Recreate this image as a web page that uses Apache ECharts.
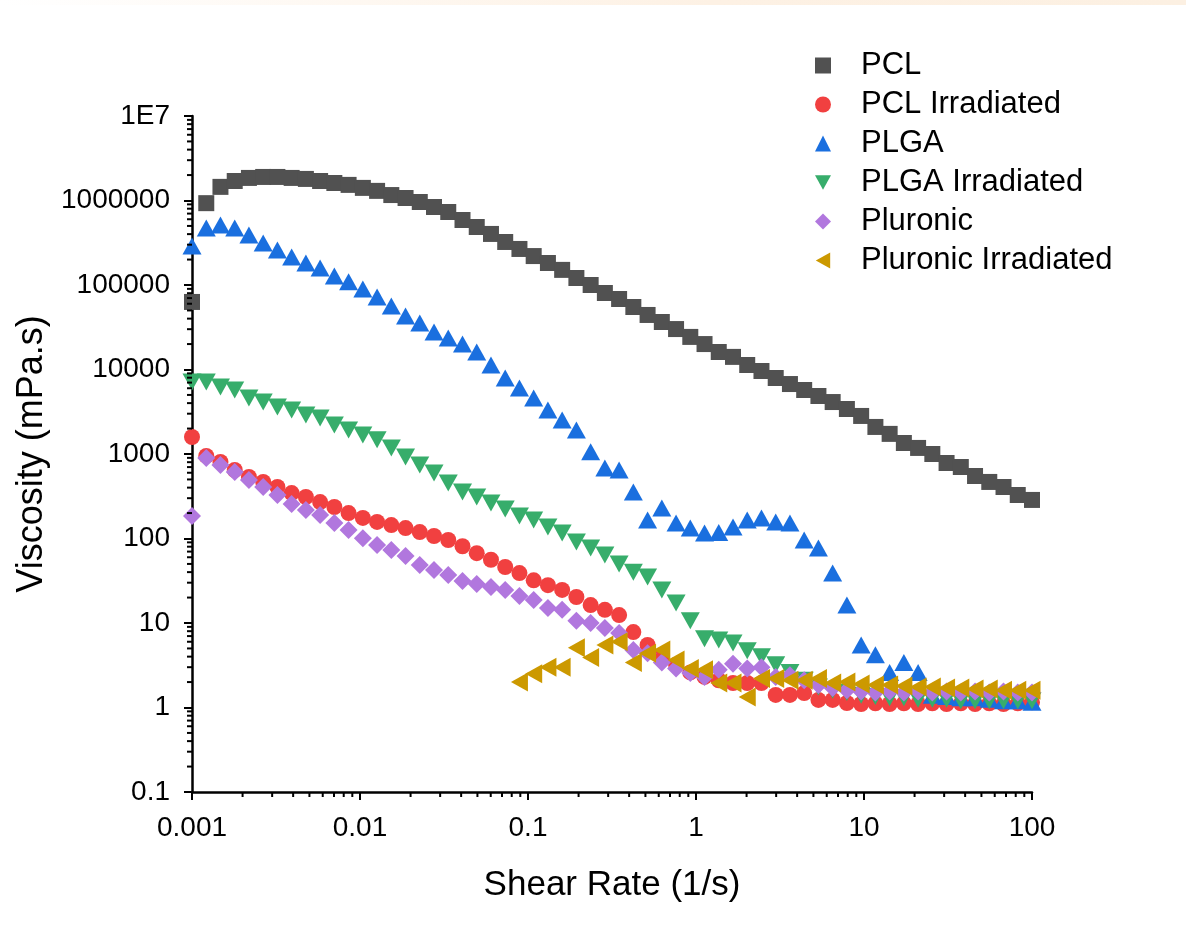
<!DOCTYPE html>
<html>
<head>
<meta charset="utf-8">
<script src="https://cdn.jsdelivr.net/npm/echarts@6/dist/echarts.min.js"></script>
<style>
  html, body { margin: 0; padding: 0; background: #fff; }
  #chart { width: 1186px; height: 944px; }
</style>
</head>
<body>
<div id="chart"></div>
<script>
// shear rate sweep, 60 points from 0.001 to 100 1/s
const shearRate = [
  0.001, 0.001216, 0.001477, 0.001796, 0.002182, 0.002653, 0.003224, 0.003919, 0.004763, 0.005789,
  0.007036, 0.008552, 0.0104, 0.01264, 0.01536, 0.01867, 0.02269, 0.02758, 0.03352, 0.04075,
  0.04953, 0.0602, 0.07317, 0.08893, 0.1081, 0.1314, 0.1597, 0.1941, 0.236, 0.2868,
  0.3486, 0.4237, 0.515, 0.626, 0.7609, 0.9248, 1.124, 1.366, 1.661, 2.018,
  2.453, 2.982, 3.624, 4.405, 5.354, 6.508, 7.91, 9.617, 11.69, 14.21,
  17.27, 20.99, 25.51, 31.01, 37.69, 45.81, 55.68, 67.68, 82.26, 100
]

// viscosity, mPa.s
const pcl = [
  63000, 930000, 1450000, 1700000, 1850000, 1900000, 1900000, 1850000, 1800000, 1700000,
  1610000, 1530000, 1410000, 1300000, 1160000, 1070000, 960000, 838000, 731000, 588000,
  486000, 402000, 323000, 267000, 220000, 182000, 151000, 121000, 100000, 80400,
  68300, 54900, 44200, 36500, 30100, 24300, 20000, 16100, 14100, 11300,
  9600, 7930, 6730, 5720, 4860, 4120, 3410, 2820, 2090, 1730,
  1350, 1180, 1000, 782, 702, 549, 467, 407, 327, 286
]
const pclIrr = [
  1590, 950, 804, 647, 535, 467, 407, 345, 310, 270,
  236, 200, 175, 157, 144, 133, 119, 107, 96, 81,
  67, 56, 46, 39, 32, 28, 24.6, 20.3, 16.3, 14.3,
  12.4, 7.8, 5.5, 4.0, 3.2, 2.6, 2.3, 2.1, 1.95, 1.95,
  1.95, 1.41, 1.41, 1.48, 1.23, 1.23, 1.13, 1.1, 1.12, 1.1,
  1.12, 1.1, 1.12, 1.1, 1.12, 1.1, 1.12, 1.1, 1.12, 1.15
]
const plga = [
  290000, 473000, 513000, 473000, 391000, 314000, 260000, 214000, 182000, 159000,
  128000, 109000, 89700, 72100, 56400, 43000, 35500, 27800, 23600, 20000,
  16100, 11300, 7930, 6040, 4600, 3320, 2530, 1920, 1060, 683,
  647, 355, 166, 230, 153, 133, 116, 118, 137, 166,
  175, 157, 153, 96, 77, 39, 16.3, 5.5, 4.2, 2.6,
  3.4, 2.6, 1.4, 1.35, 1.3, 1.3, 1.25, 1.2, 1.2, 1.15
]
const plgaIrr = [
  7110, 7110, 6210, 5720, 4600, 4120, 3600, 3320, 2900, 2670,
  2200, 1920, 1680, 1470, 1180, 921, 741, 596, 454, 355,
  310, 263, 223, 185, 166, 137, 116, 91, 77, 64,
  50, 40, 35, 24.6, 17.2, 10.6, 6.5, 6.3, 5.8, 4.7,
  4.0, 3.2, 2.6, 2.1, 1.75, 1.6, 1.5, 1.4, 1.35, 1.3,
  1.3, 1.25, 1.25, 1.25, 1.2, 1.2, 1.2, 1.2, 1.2, 1.2
]
const pluronic = [
  185, 897, 741, 612, 492, 407, 327, 256, 217, 190,
  153, 126, 101, 84, 73, 62, 48.5, 42.4, 37, 31.4,
  29, 26.7, 24.6, 20.9, 18.7, 15.1, 14.3, 10.6, 10, 8.7,
  7.6, 4.8, 4.4, 3.4, 2.9, 2.56, 2.3, 2.8, 3.3, 2.9,
  3.0, 2.3, 2.4, 2.1, 1.85, 1.7, 1.6, 1.55, 1.5, 1.55,
  1.5, 1.55, 1.5, 1.55, 1.5, 1.55, 1.5, 1.55, 1.5, 1.5
]
const pluronicIrr = [
  null, null, null, null, null, null, null, null, null, null,
  null, null, null, null, null, null, null, null, null, null,
  null, null, null, 2.0, 2.5, 3.0, 3.0, 5.1, 3.9, 5.5,
  6.0, 3.4, 4.4, 4.8, 3.65, 2.9, 2.8, 1.95, 1.95, 1.33,
  2.2, 2.2, 2.1, 2.1, 2.2, 1.95, 2.0, 1.9, 1.85, 1.85,
  1.8, 1.75, 1.75, 1.7, 1.7, 1.65, 1.65, 1.6, 1.6, 1.6
]

const seriesNames = ['PCL', 'PCL Irradiated', 'PLGA', 'PLGA Irradiated', 'Pluronic', 'Pluronic Irradiated']
const xTickLabels = ['0.001', '0.01', '0.1', '1', '10', '100']
const yTickLabels = ['0.1', '1', '10', '100', '1000', '10000', '100000', '1000000', '1E7']
const xDecades = [0.001, 0.01, 0.1, 1, 10]
const yDecades = [0.1, 1, 10, 100, 1000, 10000, 100000, 1000000]
const minorMantissas = [2, 3, 4, 5, 6, 7, 8, 9]

const colors = ['#515151', '#F14040', '#1A6FDF', '#37AD6B', '#B177DE', '#CC9900']
const symbols = [
  'rect',
  'circle',
  'triangle',
  'path://M0,0 L10,0 L5,9 Z',
  'diamond',
  'path://M0,5 L9,0 L9,10 Z',
]
const symbolSizes = [16, 16, [19, 17], [19, 17], [18, 18], [17, 19]]
const allValues = [pcl, pclIrr, plga, plgaIrr, pluronic, pluronicIrr]

const font = '"Liberation Sans", Arial, sans-serif'

function toPairs(values) {
  return shearRate.map((x, i) => [x, values[i]]).filter((d) => d[1] != null)
}

function minorTicks(decades) {
  const out = []
  decades.forEach((d) => minorMantissas.forEach((m) => out.push(d * m)))
  return out
}

function minorTickSeries(axis) {
  const vals = minorTicks(axis === 'y' ? yDecades : xDecades)
  return {
    type: 'custom',
    silent: true,
    clip: false,
    z: 5,
    data: vals.map((v) => (axis === 'y' ? [0.001, v] : [v, 0.1])),
    renderItem: (params, api) => {
      const p = api.coord([api.value(0), api.value(1)])
      const shape = axis === 'y'
        ? { x1: p[0] - 5, y1: p[1], x2: p[0], y2: p[1] }
        : { x1: p[0], y1: p[1], x2: p[0], y2: p[1] + 5 }
      return { type: 'line', shape, style: { stroke: '#000', lineWidth: 2 } }
    },
  }
}

const chart = echarts.init(document.getElementById('chart'))

chart.setOption({
  backgroundColor: '#ffffff',
  animation: false,
  graphic: [
    {
      type: 'rect',
      left: 0,
      top: 0,
      shape: { width: 1186, height: 5 },
      style: {
        fill: new echarts.graphic.LinearGradient(0, 0, 1, 0, [
          { offset: 0, color: '#ffffff' },
          { offset: 0.6, color: '#fdf1e4' },
          { offset: 1, color: '#fcf0e2' },
        ]),
      },
      silent: true,
    },
  ],
  grid: {
    left: 192,
    right: 154,
    top: 116,
    bottom: 152,
  },
  legend: {
    orient: 'vertical',
    left: 810,
    top: 45,
    itemWidth: 16,
    itemHeight: 16,
    itemGap: 8,
    data: seriesNames,
    textStyle: {
      fontFamily: font,
      fontSize: 31,
      lineHeight: 31,
      color: '#000',
      padding: [0, 0, 0, 25],
    },
  },
  xAxis: {
    type: 'log',
    logBase: 10,
    min: 0.001,
    max: 100,
    splitNumber: 5,
    name: 'Shear Rate (1/s)',
    nameLocation: 'middle',
    nameGap: 76,
    nameTextStyle: { fontFamily: font, fontSize: 35, color: '#000' },
    axisLine: { onZero: false, lineStyle: { color: '#000', width: 2.5 } },
    axisTick: { inside: false, length: 8, lineStyle: { color: '#000', width: 2 } },
    splitLine: { show: false },
    axisLabel: {
      fontFamily: font,
      fontSize: 28,
      color: '#000',
      margin: 22,
      formatter: (val) => xTickLabels[Math.round(Math.log10(val)) + 3],
    },
  },
  yAxis: {
    type: 'log',
    logBase: 10,
    min: 0.1,
    max: 10000000,
    splitNumber: 8,
    name: 'Viscosity (mPa.s)',
    nameLocation: 'middle',
    nameGap: 133,
    nameTextStyle: { fontFamily: font, fontSize: 36, color: '#000' },
    axisLine: { onZero: false, lineStyle: { color: '#000', width: 2.5 } },
    axisTick: { inside: false, length: 8, lineStyle: { color: '#000', width: 2 } },
    splitLine: { show: false },
    axisLabel: {
      fontFamily: font,
      fontSize: 28,
      color: '#000',
      margin: 22,
      formatter: (val) => yTickLabels[Math.round(Math.log10(val)) + 1],
    },
  },
  series: [
    ...seriesNames.map((name, i) => ({
      name,
      type: 'scatter',
      data: toPairs(allValues[i]),
      symbol: symbols[i],
      symbolSize: symbolSizes[i],
      itemStyle: { color: colors[i], opacity: 1 },
      emphasis: { disabled: true },
    })),
    minorTickSeries('y'),
    minorTickSeries('x'),
  ],
})
</script>
</body>
</html>
